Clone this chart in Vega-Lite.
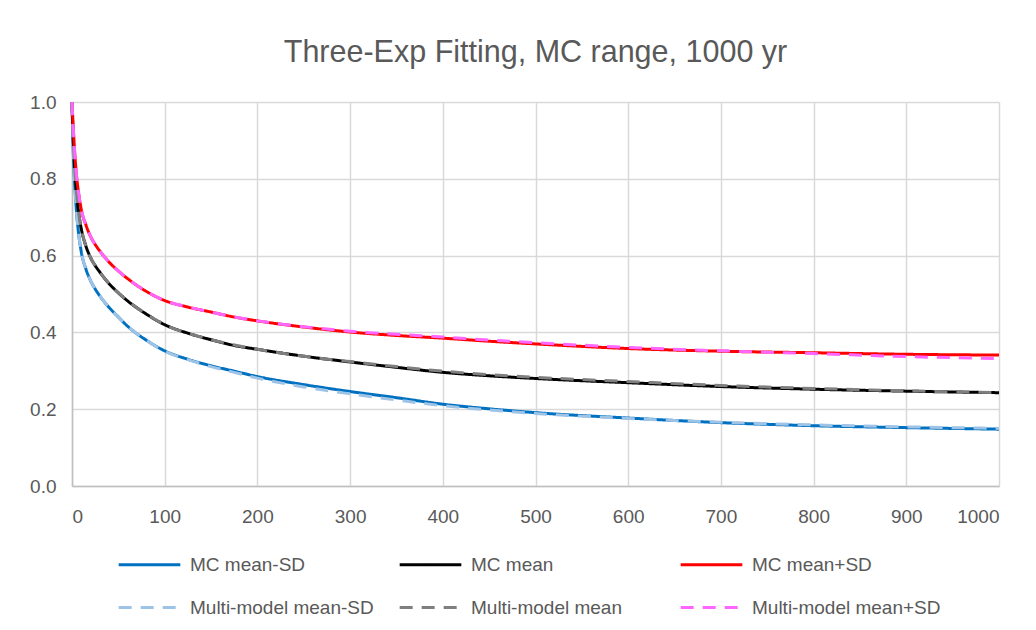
{
  "$schema": "https://vega.github.io/schema/vega-lite/v6.json",
  "width": 927,
  "height": 384,
  "autosize": "none",
  "padding": {"left": 72, "top": 102, "right": 37, "bottom": 144},
  "background": "white",
  "title": {
    "text": "Three-Exp Fitting, MC range, 1000 yr",
    "font": "Liberation Sans",
    "fontSize": 30.5,
    "fontWeight": "normal",
    "color": "#595959",
    "anchor": "middle",
    "offset": 25
  },
  "data": {
    "values": [
      {"x": 0, "mcLo": 1.0, "mc": 1.0, "mcHi": 1.0, "mmLo": 1.0, "mm": 1.0, "mmHi": 1.0},
      {"x": 1, "mcLo": 0.9, "mc": 0.925, "mcHi": 0.95, "mmLo": 0.9, "mm": 0.925, "mmHi": 0.95},
      {"x": 2, "mcLo": 0.835, "mc": 0.87, "mcHi": 0.905, "mmLo": 0.835, "mm": 0.87, "mmHi": 0.905},
      {"x": 3, "mcLo": 0.785, "mc": 0.825, "mcHi": 0.865, "mmLo": 0.785, "mm": 0.825, "mmHi": 0.865},
      {"x": 5, "mcLo": 0.71, "mc": 0.76, "mcHi": 0.805, "mmLo": 0.71, "mm": 0.76, "mmHi": 0.805},
      {"x": 7, "mcLo": 0.66, "mc": 0.715, "mcHi": 0.765, "mmLo": 0.66, "mm": 0.715, "mmHi": 0.765},
      {"x": 10, "mcLo": 0.61, "mc": 0.67, "mcHi": 0.72, "mmLo": 0.61, "mm": 0.67, "mmHi": 0.72},
      {"x": 15, "mcLo": 0.565, "mc": 0.625, "mcHi": 0.68, "mmLo": 0.565, "mm": 0.625, "mmHi": 0.68},
      {"x": 20, "mcLo": 0.535, "mc": 0.595, "mcHi": 0.65, "mmLo": 0.535, "mm": 0.595, "mmHi": 0.65},
      {"x": 25, "mcLo": 0.513, "mc": 0.574, "mcHi": 0.629, "mmLo": 0.513, "mm": 0.574, "mmHi": 0.629},
      {"x": 30, "mcLo": 0.495, "mc": 0.557, "mcHi": 0.612, "mmLo": 0.495, "mm": 0.557, "mmHi": 0.612},
      {"x": 40, "mcLo": 0.465, "mc": 0.527, "mcHi": 0.583, "mmLo": 0.465, "mm": 0.527, "mmHi": 0.583},
      {"x": 50, "mcLo": 0.44, "mc": 0.503, "mcHi": 0.56, "mmLo": 0.44, "mm": 0.503, "mmHi": 0.56},
      {"x": 60, "mcLo": 0.416, "mc": 0.482, "mcHi": 0.54, "mmLo": 0.416, "mm": 0.482, "mmHi": 0.54},
      {"x": 80, "mcLo": 0.38, "mc": 0.448, "mcHi": 0.507, "mmLo": 0.38, "mm": 0.448, "mmHi": 0.507},
      {"x": 100, "mcLo": 0.352, "mc": 0.42, "mcHi": 0.483, "mmLo": 0.351, "mm": 0.42, "mmHi": 0.483},
      {"x": 125, "mcLo": 0.33, "mc": 0.398, "mcHi": 0.466, "mmLo": 0.329, "mm": 0.398, "mmHi": 0.466},
      {"x": 150, "mcLo": 0.313, "mc": 0.381, "mcHi": 0.453, "mmLo": 0.311, "mm": 0.381, "mmHi": 0.453},
      {"x": 175, "mcLo": 0.299, "mc": 0.366, "mcHi": 0.44, "mmLo": 0.296, "mm": 0.367, "mmHi": 0.44},
      {"x": 200, "mcLo": 0.285, "mc": 0.356, "mcHi": 0.43, "mmLo": 0.281, "mm": 0.356, "mmHi": 0.43},
      {"x": 250, "mcLo": 0.264, "mc": 0.338, "mcHi": 0.414, "mmLo": 0.258, "mm": 0.338, "mmHi": 0.415},
      {"x": 300, "mcLo": 0.246, "mc": 0.323, "mcHi": 0.401, "mmLo": 0.24, "mm": 0.324, "mmHi": 0.403},
      {"x": 350, "mcLo": 0.23, "mc": 0.309, "mcHi": 0.392, "mmLo": 0.224, "mm": 0.311, "mmHi": 0.395},
      {"x": 400, "mcLo": 0.213, "mc": 0.296, "mcHi": 0.385, "mmLo": 0.209, "mm": 0.299, "mmHi": 0.388},
      {"x": 450, "mcLo": 0.201, "mc": 0.287, "mcHi": 0.377, "mmLo": 0.198, "mm": 0.29, "mmHi": 0.38},
      {"x": 500, "mcLo": 0.191, "mc": 0.28, "mcHi": 0.37, "mmLo": 0.189, "mm": 0.283, "mmHi": 0.373},
      {"x": 600, "mcLo": 0.177, "mc": 0.269, "mcHi": 0.358, "mmLo": 0.176, "mm": 0.272, "mmHi": 0.361},
      {"x": 700, "mcLo": 0.165, "mc": 0.259, "mcHi": 0.351, "mmLo": 0.166, "mm": 0.262, "mmHi": 0.352},
      {"x": 800, "mcLo": 0.157, "mc": 0.252, "mcHi": 0.347, "mmLo": 0.159, "mm": 0.254, "mmHi": 0.345},
      {"x": 900, "mcLo": 0.152, "mc": 0.247, "mcHi": 0.343, "mmLo": 0.154, "mm": 0.248, "mmHi": 0.337},
      {"x": 1000, "mcLo": 0.148, "mc": 0.243, "mcHi": 0.341, "mmLo": 0.15, "mm": 0.243, "mmHi": 0.332}
    ]
  },
  "transform": [
    {"fold": ["mcLo", "mc", "mcHi", "mmLo", "mm", "mmHi"], "as": ["key", "y"]},
    {"lookup": "key", "from": {"data": {"values": [
      {"key": "mcLo", "series": "MC mean-SD"},
      {"key": "mc", "series": "MC mean"},
      {"key": "mcHi", "series": "MC mean+SD"},
      {"key": "mmLo", "series": "Multi-model mean-SD"},
      {"key": "mm", "series": "Multi-model mean"},
      {"key": "mmHi", "series": "Multi-model mean+SD"}
    ]}, "key": "key", "fields": ["series"]}}
  ],
  "mark": {"type": "line", "strokeWidth": 3, "interpolate": "monotone"},
  "encoding": {
    "x": {
      "field": "x", "type": "quantitative",
      "scale": {"domain": [0, 1000], "nice": false},
      "axis": {
        "title": null, "values": [0,100,200,300,400,500,600,700,800,900,1000], "format": "d",
        "grid": true, "gridColor": "#d9d9d9", "gridWidth": 1.5,
        "domainColor": "#bfbfbf", "domainWidth": 1.5,
        "ticks": false, "labelPadding": 21,
        "labelFont": "Liberation Sans", "labelFontSize": 19, "labelColor": "#595959"
      }
    },
    "y": {
      "field": "y", "type": "quantitative",
      "scale": {"domain": [0, 1], "nice": false},
      "axis": {
        "title": null, "values": [0, 0.2, 0.4, 0.6, 0.8, 1.0], "format": ".1f",
        "grid": true, "gridColor": "#d9d9d9", "gridWidth": 1.5,
        "domainColor": "#bfbfbf", "domainWidth": 1.5,
        "ticks": false, "labelPadding": 16,
        "labelFont": "Liberation Sans", "labelFontSize": 19, "labelColor": "#595959"
      }
    },
    "color": {
      "field": "series", "type": "nominal",
      "scale": {
        "domain": ["MC mean-SD", "MC mean", "MC mean+SD", "Multi-model mean-SD", "Multi-model mean", "Multi-model mean+SD"],
        "range": ["#0070C0", "#000000", "#FF0000", "#9DC3E6", "#7F7F7F", "#FF66FF"]
      },
      "legend": {
        "title": null, "orient": "none", "legendX": 45, "legendY": 430,
        "direction": "horizontal", "columns": 3, "gridAlign": "all",
        "columnPadding": 14, "rowPadding": -20,
        "symbolType": "stroke", "symbolSize": 3800, "symbolStrokeWidth": 3,
        "labelOffset": 8, "labelFont": "Liberation Sans", "labelFontSize": 19, "labelColor": "#595959",
        "labelLimit": 400
      }
    },
    "strokeDash": {
      "field": "series", "type": "nominal",
      "scale": {
        "domain": ["MC mean-SD", "MC mean", "MC mean+SD", "Multi-model mean-SD", "Multi-model mean", "Multi-model mean+SD"],
        "range": [[1, 0], [1, 0], [1, 0], [13, 9], [13, 9], [13, 9]]
      },
      "legend": null
    }
  },
  "config": {"view": {"stroke": null}}
}
